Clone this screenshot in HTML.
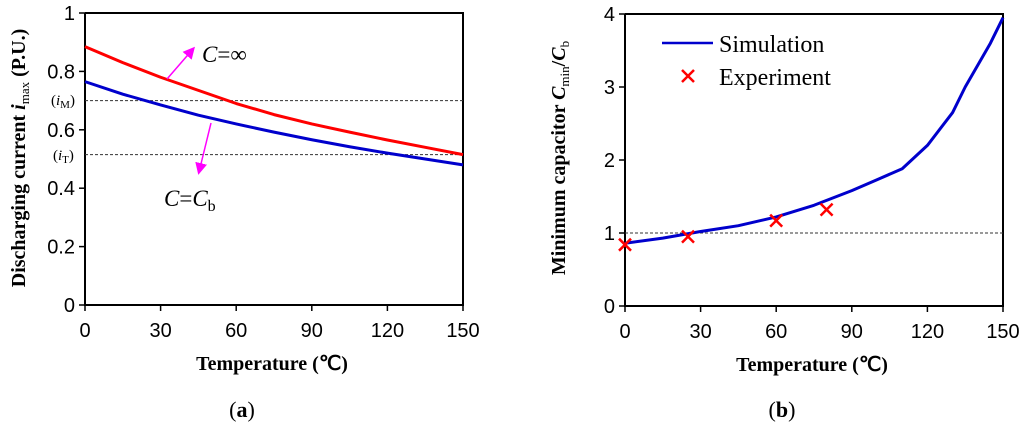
<!DOCTYPE html>
<html><head><meta charset="utf-8"><style>
body{margin:0;background:#fff;width:1024px;height:429px;overflow:hidden}
svg{display:block}
.t{font-family:"Liberation Sans",Arial,sans-serif;font-size:20px;fill:#000}
.s{font-family:"Liberation Serif","Times New Roman",serif;fill:#000}
</style></head><body>
<svg id="c" width="1024" height="429"></svg>
<script>
const xTicks=[0,30,60,90,120,150];
const leftYTicks=[0,0.2,0.4,0.6,0.8,1];
const rightYTicks=[0,1,2,3,4];
const tempA=[0,15,30,45,60,75,90,105,120,135,150];
const redVals=[0.885,0.83,0.78,0.735,0.69,0.652,0.62,0.592,0.565,0.54,0.515];
const blueVals=[0.765,0.722,0.685,0.65,0.62,0.592,0.566,0.542,0.52,0.5,0.48];
const tempB=[0,15,30,45,60,75,90,100,110,120,130,135,140,145,150];
const simVals=[0.86,0.93,1.02,1.1,1.22,1.38,1.58,1.73,1.88,2.2,2.65,3.0,3.3,3.6,3.95];
const expT=[0,25,60,80];
const expVals=[0.84,0.95,1.17,1.32];
const NS="http://www.w3.org/2000/svg";
const svg=document.getElementById('c');
function mk(tag,attrs,parent){const e=document.createElementNS(NS,tag);for(const k in attrs)e.setAttribute(k,attrs[k]);(parent||svg).appendChild(e);return e;}
function panel(x0,x1,y0,y1,ymax,yt,name){
 const g=mk('g',{});
 
 
 const sx=v=>x0+(x1-x0)*v/150, sy=v=>y0-(y0-y1)*v/ymax;
 const ax=mk('path',{d:`M${x0},${y1}V${y0}H${x1}V${y1}H${x0}`,fill:'none',stroke:'#000','stroke-width':2},g);
 
 
 xTicks.forEach(v=>{mk('line',{x1:sx(v),x2:sx(v),y1:y0,y2:y0+6,stroke:'#000','stroke-width':1.5},g);
  const t=mk('text',{x:sx(v),y:y0+32,'text-anchor':'middle',class:'t'},g);t.textContent=v;
  
  });
 yt.forEach(v=>{mk('line',{x1:x0-6,x2:x0,y1:sy(v),y2:sy(v),stroke:'#000','stroke-width':1.5},g);
  const t=mk('text',{x:x0-10,y:sy(v)+7,'text-anchor':'end',class:'t'},g);t.textContent=v;
  
  });
 return {g,sx,sy};
}
function line(p,xs,ys,color,name){
 const el=mk('path',{d:xs.map((x,i)=>(i?'L':'M')+p.sx(x)+','+p.sy(ys[i])).join(''),fill:'none',stroke:color,'stroke-width':3,'stroke-linejoin':'round'},p.g);
 
 
}
function dash(p,v,name){const el=mk('line',{x1:p.sx(0),x2:p.sx(150),y1:p.sy(v),y2:p.sy(v),stroke:'#333','stroke-width':1,'stroke-dasharray':'3,2'},p.g);
 
 }
const A=panel(85,463,305,13,1,leftYTicks,'chart-a');
dash(A,0.7,'im-reference-line');dash(A,0.515,'it-reference-line');
line(A,tempA,redVals,'#f00','series-c-infinity');
line(A,tempA,blueVals,'#00c','series-c-cb');
const B=panel(625,1003,306,14,4,rightYTicks,'chart-b');
dash(B,1,'unity-reference-line');
line(B,tempB,simVals,'#00c','series-simulation');
expT.forEach((t,i)=>{const x=B.sx(t),y=B.sy(expVals[i]);
 const m=mk('path',{d:`M${x-6},${y-6}L${x+6},${y+6}M${x-6},${y+6}L${x+6},${y-6}`,stroke:'#f00','stroke-width':2.5},B.g);
 
 });
</script>
<svg width="1024" height="429" style="position:absolute;left:0;top:0">
<defs><marker id="ah" markerWidth="8" markerHeight="8" refX="6" refY="4" orient="auto"><path d="M0,0L8,4L0,8z" fill="#f0f"/></marker></defs>
<line x1="167" y1="79" x2="193" y2="49" stroke="#f0f" stroke-width="1.5" marker-end="url(#ah)"/>
<line x1="211" y1="123" x2="199" y2="172" stroke="#f0f" stroke-width="1.5" marker-end="url(#ah)"/>
<text x="202" y="62" class="s" font-size="23"><tspan font-style="italic">C</tspan>=∞</text>
<text x="164" y="206" class="s" font-size="23"><tspan font-style="italic">C</tspan>=<tspan font-style="italic">C</tspan><tspan font-size="16" dy="5">b</tspan></text>
<text x="51" y="105" class="s" font-size="15">(<tspan font-style="italic">i</tspan><tspan font-size="11" dy="3">M</tspan><tspan dy="-3">)</tspan></text>
<text x="53" y="160" class="s" font-size="15">(<tspan font-style="italic">i</tspan><tspan font-size="11" dy="3">T</tspan><tspan dy="-3">)</tspan></text>
<text transform="translate(25,158) rotate(-90)" text-anchor="middle" class="s" font-size="20" font-weight="bold">Discharging current <tspan font-style="italic">i</tspan><tspan font-size="13" font-weight="normal" dy="4">max</tspan><tspan dy="-4"> (P.U.)</tspan></text>
<text transform="translate(565,158) rotate(-90)" text-anchor="middle" class="s" font-size="20" font-weight="bold">Minimum capacitor <tspan font-style="italic">C</tspan><tspan font-size="13" font-weight="normal" dy="4">min</tspan><tspan dy="-4">/</tspan><tspan font-style="italic">C</tspan><tspan font-size="13" font-weight="normal" dy="4">b</tspan></text>
<text x="272" y="370" text-anchor="middle" class="s" font-size="20" font-weight="bold">Temperature (℃)</text>
<text x="812" y="371" text-anchor="middle" class="s" font-size="20" font-weight="bold">Temperature (℃)</text>
<text x="242" y="417" text-anchor="middle" class="s" font-size="22">(<tspan font-weight="bold">a</tspan>)</text>
<text x="782" y="417" text-anchor="middle" class="s" font-size="22">(<tspan font-weight="bold">b</tspan>)</text>
<g>
<line x1="662" y1="43" x2="713" y2="43" stroke="#00c" stroke-width="2.5"/>
<text x="719" y="52" class="s" font-size="24">Simulation</text>
<path d="M682,70L694,82M682,82L694,70" stroke="#f00" stroke-width="2.5"/>
<text x="719" y="85" class="s" font-size="24">Experiment</text>
</g>
</svg>
</body></html>
